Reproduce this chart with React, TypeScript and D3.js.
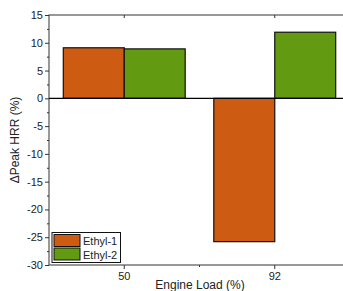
import React, { useEffect, useRef } from "react";
import * as d3 from "d3";

const loads = ["50", "92"];
const series = ["Ethyl-1", "Ethyl-2"];
const ethyl1 = [9.1, -25.8];
const ethyl2 = [8.9, 11.9];
const colors = ["#cd5c12", "#629a12"];
const yTicks = [15, 10, 5, 0, -5, -10, -15, -20, -25, -30];

const App = () => {
  const svgRef = useRef<SVGSVGElement>(null);

  useEffect(() => {
    const svg = d3.select(svgRef.current);
    svg.selectAll("*").remove();

    const left = 49;
    const top = 15;
    const bottom = 265;
    const right = 350;
    const font = "Liberation Sans, Arial, sans-serif";

    const x = d3.scaleBand().domain(loads).range([left, right]);
    const inner = d3.scaleBand().domain(series).range([0, x.bandwidth() * 0.81]);
    const off = (x.bandwidth() - x.bandwidth() * 0.81) / 2;
    const y = d3.scaleLinear().domain([-30, 15]).range([bottom, top]);

    const values = [ethyl1, ethyl2];
    const rows = series.flatMap((s, si) =>
      loads.map((l, li) => ({ s, l, v: values[si][li], c: colors[si] }))
    );

    // bars
    svg
      .append("g")
      .selectAll("rect")
      .data(rows)
      .join("rect")
      .attr("x", (d) => x(d.l)! + off + inner(d.s)!)
      .attr("width", inner.bandwidth())
      .attr("y", (d) => y(Math.max(0, d.v)))
      .attr("height", (d) => Math.abs(y(d.v) - y(0)))
      .attr("fill", (d) => d.c)
      .attr("stroke", "#111")
      .attr("stroke-width", 1.2);

    // zero line
    svg
      .append("line")
      .attr("x1", left)
      .attr("x2", right)
      .attr("y1", y(0))
      .attr("y2", y(0))
      .attr("stroke", "#000")
      .attr("stroke-width", 1.2);

    // frame
    svg
      .append("rect")
      .attr("x", left)
      .attr("y", top)
      .attr("width", right - left)
      .attr("height", bottom - top)
      .attr("fill", "none")
      .attr("stroke", "#333")
      .attr("stroke-width", 1);

    // y axis
    const yAxis = svg
      .append("g")
      .attr("transform", `translate(${left},0)`)
      .call(
        d3
          .axisLeft(y)
          .tickValues(yTicks)
          .tickSize(4)
          .tickPadding(2)
          .tickFormat((d) => String(d))
      );
    yAxis.select(".domain").remove();
    yAxis.selectAll("line").attr("stroke", "#333");
    yAxis
      .selectAll("text")
      .attr("font-family", font)
      .attr("font-size", 11)
      .attr("fill", "#222");

    svg
      .append("g")
      .attr("transform", `translate(${left},0)`)
      .call(
        d3
          .axisLeft(y)
          .tickValues(d3.range(-27.5, 15, 5))
          .tickSize(2)
          .tickFormat(() => "")
      )
      .call((g) => g.select(".domain").remove())
      .selectAll("line")
      .attr("stroke", "#333");

    // x axis
    const centers = loads.map((l) => x(l)! + x.bandwidth() / 2);
    const xg = svg.append("g");
    xg.selectAll("line.major")
      .data(centers)
      .join("line")
      .attr("x1", (d) => d)
      .attr("x2", (d) => d)
      .attr("y1", bottom)
      .attr("y2", bottom + 4)
      .attr("stroke", "#333");
    xg.append("line")
      .attr("x1", (centers[0] + centers[1]) / 2)
      .attr("x2", (centers[0] + centers[1]) / 2)
      .attr("y1", bottom)
      .attr("y2", bottom + 2)
      .attr("stroke", "#333");
    xg.selectAll("line.top")
      .data(centers)
      .join("line")
      .attr("x1", (d) => d)
      .attr("x2", (d) => d)
      .attr("y1", top)
      .attr("y2", top + 3)
      .attr("stroke", "#333");
    xg.selectAll("text")
      .data(loads)
      .join("text")
      .attr("x", (d) => x(d)! + x.bandwidth() / 2)
      .attr("y", bottom + 15)
      .attr("text-anchor", "middle")
      .attr("font-family", font)
      .attr("font-size", 11)
      .attr("fill", "#222")
      .text((d) => d);

    // axis titles
    svg
      .append("text")
      .attr("x", 200)
      .attr("y", 289)
      .attr("text-anchor", "middle")
      .attr("font-family", font)
      .attr("font-size", 12)
      .attr("fill", "#222")
      .text("Engine Load (%)");

    svg
      .append("text")
      .attr("transform", `translate(19,${(top + bottom) / 2}) rotate(-90)`)
      .attr("text-anchor", "middle")
      .attr("font-family", font)
      .attr("font-size", 12)
      .attr("fill", "#222")
      .text("\u0394Peak HRR (%)");

    // legend
    const lg = svg.append("g").attr("transform", "translate(52,232.5)");
    lg.append("rect")
      .attr("width", 68.5)
      .attr("height", 30)
      .attr("fill", "#fff")
      .attr("stroke", "#111")
      .attr("stroke-width", 1);
    const item = lg
      .selectAll("g")
      .data(series)
      .join("g")
      .attr("transform", (_, i) => `translate(2,${2 + i * 13.5})`);
    item
      .append("rect")
      .attr("width", 26)
      .attr("height", 12)
      .attr("fill", (_, i) => colors[i])
      .attr("stroke", "#111")
      .attr("stroke-width", 1);
    item
      .append("text")
      .attr("x", 29)
      .attr("y", 10.5)
      .attr("font-family", font)
      .attr("font-size", 11)
      .attr("fill", "#222")
      .text((d) => d);
  }, []);

  return (
    <svg
      ref={svgRef}
      width={343}
      height={291}
      style={{ position: "absolute", left: 0, top: 0 }}
    />
  );
};

export default App;
